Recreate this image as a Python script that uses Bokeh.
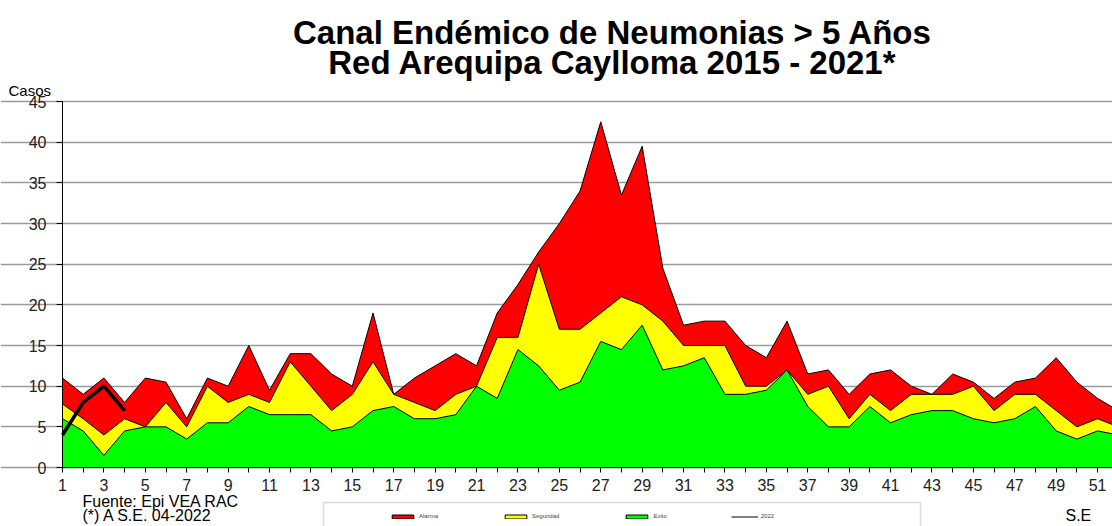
from bokeh.plotting import figure
from bokeh.models import Label, Legend, LegendItem, FixedTicker, BoxAnnotation, Range1d
from bokeh.embed import file_html
from bokeh.resources import INLINE

weeks = list(range(1, 53))
alarma = [11, 9, 11, 8, 11, 10.5, 6, 11, 10, 15, 9.5, 14, 14, 11.5, 10, 19, 9, 11, 12.5, 14,
          12.5, 19, 22.5, 26.5, 30, 34, 42.5, 33.5, 39.5, 24.5, 17.5, 18, 18, 15, 13.5, 18,
          11.5, 12, 9, 11.5, 12, 10, 9, 11.5, 10.5, 8.5, 10.5, 11, 13.5, 10.5, 8.5, 7]
seguridad = [7.8, 6, 4, 6, 5, 8, 5, 10, 8, 9, 8, 13, 10, 7, 9, 13, 9, 8, 7, 9,
             10, 16, 16, 25, 17, 17, 19, 21, 20, 18, 15, 15, 15, 10, 10, 12,
             9, 10, 6, 9, 7, 9, 9, 9, 10, 7, 9, 9, 7, 5, 6, 5]
exito = [6, 4.5, 1.5, 4.5, 5, 5, 3.5, 5.5, 5.5, 7.5, 6.5, 6.5, 6.5, 4.5, 5, 7, 7.5, 6, 6, 6.5,
         10, 8.5, 14.5, 12.5, 9.5, 10.5, 15.5, 14.5, 17.5, 12, 12.5, 13.5, 9, 9, 9.5, 12,
         7.5, 5, 5, 7.5, 5.5, 6.5, 7, 7, 6, 5.5, 6, 7.5, 4.5, 3.5, 4.5, 4]
weeks_2022 = [1, 2, 3, 4]
casos_2022 = [4, 8, 10, 7]
y_ticks = [0, 5, 10, 15, 20, 25, 30, 35, 40, 45]

FONT = "Liberation Sans"
W, H = 1112, 526

# frame fills the whole canvas; axes are drawn at fixed data locations
p = figure(width=W, height=H, x_range=Range1d(-1.995, 51.72), y_range=Range1d(-7.25, 57.42),
           output_backend="svg", toolbar_location=None, title=None,
           min_border_left=0, min_border_right=0, min_border_top=0, min_border_bottom=0)
p.outline_line_color = None
p.background_fill_color = "white"
p.border_fill_color = "white"

# grid
p.xgrid.visible = False
p.ygrid.grid_line_color = "#9a9a9a"
p.ygrid.grid_line_width = 1.5
p.ygrid.ticker = FixedTicker(ticks=y_ticks)
p.ygrid.bounds = (1, 52)

# axes
p.xaxis.fixed_location = 0
p.yaxis.fixed_location = 1
p.xaxis.bounds = (1, 52)
p.yaxis.bounds = (0, 45)
p.yaxis.ticker = FixedTicker(ticks=y_ticks)
p.xaxis.ticker = FixedTicker(ticks=weeks)
p.xaxis.major_label_overrides = {w: ("" if w % 2 == 0 else str(w)) for w in weeks}
p.xaxis.minor_tick_line_color = None
p.yaxis.minor_tick_line_color = None
for ax in (p.xaxis, p.yaxis):
    ax.axis_line_color = "black"
    ax.major_tick_line_color = "black"
    ax.major_tick_in = 0
    ax.major_label_text_font = FONT
    ax.major_label_text_font_size = "16px"
    ax.major_label_text_color = "#222222"
p.xaxis.major_tick_out = 5
p.xaxis.major_label_standoff = 6
p.yaxis.major_tick_out = 6
p.yaxis.major_label_standoff = 10


def area(vals, color):
    xs = weeks + [weeks[-1], weeks[0]]
    ys = vals + [0, 0]
    return p.patch(xs, ys, fill_color=color, line_color="black", line_width=1)


r_alarma = area(alarma, "#ff0000")
r_seg = area(seguridad, "#ffff00")
r_exito = area(exito, "#00ff00")
r_2022_thin = p.line(weeks_2022, casos_2022, line_color="black", line_width=1)
r_2022 = p.line(weeks_2022, casos_2022, line_color="black", line_width=3.5)

# legend box (screen units, origin at bottom-left of canvas)
box = BoxAnnotation(left=323, right=920, top=H - 502, bottom=-10,
                    left_units="screen", right_units="screen",
                    top_units="screen", bottom_units="screen",
                    fill_color="white", fill_alpha=1.0,
                    line_color="#8a8a8a", line_width=1.5)
p.add_layout(box)

legend = Legend(items=[LegendItem(label="Alarma", renderers=[r_alarma]),
                       LegendItem(label="Seguridad", renderers=[r_seg]),
                       LegendItem(label="Exito", renderers=[r_exito]),
                       LegendItem(label="2022", renderers=[r_2022_thin])],
                orientation="horizontal", location=(387, 5),
                glyph_width=27, glyph_height=5, label_height=6, label_width=5,
                label_standoff=3, spacing=64, padding=2, margin=0,
                label_text_font=FONT, label_text_font_size="6px",
                border_line_alpha=0, background_fill_alpha=0)
p.add_layout(legend)


def lab(text, x, y_top, size, bold=False, align="left"):
    p.add_layout(Label(x=x, y=H - y_top, x_units="screen", y_units="screen", text=text,
                       text_font=FONT, text_font_size=size,
                       text_font_style="bold" if bold else "normal",
                       text_align=align, text_baseline="alphabetic",
                       text_color="black"))


lab("Canal Endémico de Neumonias > 5 Años", 612, 32, "33px", bold=True, align="center")
lab("Red Arequipa Caylloma 2015 - 2021*", 612, 62, "33px", bold=True, align="center")
lab("Casos", 8, 90, "15px")
lab("Fuente: Epi VEA RAC", 82, 501, "16px")
lab("(*) A S.E. 04-2022", 82, 515, "16px")
lab("S.E", 1065, 515, "16px")

open("out.html", "w").write(file_html(p, INLINE))
